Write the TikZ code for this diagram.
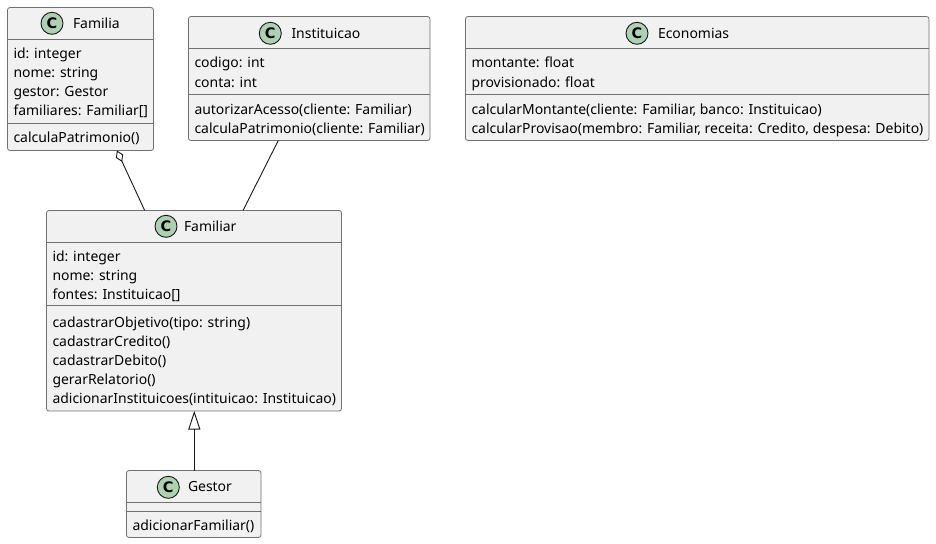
\documentclass[tikz,border=0pt]{standalone}
\usepackage{fontspec}
\setmainfont{Noto Sans}
\newfontfamily\spotfont{DejaVu Sans}
\usetikzlibrary{arrows.meta,calc}
\definecolor{boxfill}{HTML}{F1F1F1}
\definecolor{boxline}{HTML}{181818}
\definecolor{boxedge}{HTML}{707070}
\definecolor{spotfill}{HTML}{ADD1B2}
\tikzset{
  classbox/.style={draw=boxedge,fill=boxfill,line width=0.8pt,rounded corners=2.5pt,inner sep=0pt,outer sep=0pt,anchor=north west},
  spot/.style={circle,draw=boxline,fill=spotfill,line width=0.9pt,minimum size=22pt,inner sep=0pt,font=\spotfont\fontsize{14.5}{14.5}\selectfont\bfseries},
  txt/.style={anchor=base west,inner sep=0pt,outer sep=0pt,font=\fontsize{13.95}{14}\selectfont,text=black},
  sep/.style={draw=boxedge,line width=0.8pt},
  link/.style={draw=boxline,line width=0.9pt},
}
\begin{document}
\begin{tikzpicture}[x=1pt,y=-1pt]
\useasboundingbox (0,0) rectangle (936,543);
% boxes
\node[classbox,minimum width=146pt,minimum height=143pt] (familia) at (7.5,7.5) {};
\node[classbox,minimum width=241.5pt,minimum height=124pt] (inst) at (188.5,16.5) {};
\node[classbox,minimum width=463.5pt,minimum height=124pt] (econ) at (465.5,16.5) {};
\node[classbox,minimum width=295pt,minimum height=200.5pt] (familiar) at (46.5,210.5) {};
\node[classbox,minimum width=134.5pt,minimum height=67pt] (gestor) at (126.5,470.5) {};
% separators
\draw[sep] (7.5,39.5) -- (153.5,39.5) (7.5,123.5) -- (153.5,123.5);
\draw[sep] (188.5,48.5) -- (430,48.5) (188.5,94.5) -- (430,94.5);
\draw[sep] (465.5,48.5) -- (929,48.5) (465.5,94.5) -- (929,94.5);
\draw[sep] (46.5,242.5) -- (341.5,242.5) (46.5,305.5) -- (341.5,305.5);
\draw[sep] (126.5,502.5) -- (261,502.5) (126.5,511.5) -- (261,511.5);
% spots
\node[spot] (s1) at (52,23.3) {C};
\node[spot] (s2) at (270.3,33.3) {C};
\node[spot] (s3) at (637,33.3) {C};
\node[spot] (s4) at (166,226.3) {C};
\node[spot] (s5) at (168.3,487.3) {C};
% titles
\node[txt] (t1) at (73,28.5) {Familia};
\node[txt] (t2) at (291.5,38.5) {Instituicao};
\node[txt] (t3) at (658,38.5) {Economias};
\node[txt] (t4) at (184,231.5) {Familiar};
\node[txt] (t5) at (188,491.5) {Gestor};
% Familia
\node[txt] (a1) at (13.5,58.5) {id: integer};
\node[txt] (a2) at (13.5,77.5) {nome: string};
\node[txt] (a3) at (13.5,96.5) {gestor: Gestor};
\node[txt] (a4) at (13.5,115.5) {familiares: Familiar[]};
\node[txt] (a5) at (13.5,142.5) {calculaPatrimonio()};
% Instituicao
\node[txt] (b1) at (194.5,67.5) {codigo: int};
\node[txt] (b2) at (194.5,87) {conta: int};
\node[txt] (b3) at (194.5,114.5) {autorizarAcesso(cliente: Familiar)};
\node[txt] (b4) at (194.5,133.5) {calculaPatrimonio(cliente: Familiar)};
% Economias
\node[txt] (c1) at (471.5,67.5) {montante: float};
\node[txt] (c2) at (471.5,87) {provisionado: float};
\node[txt] (c3) at (471.5,114.5) {calcularMontante(cliente: Familiar, banco: Instituicao)};
\node[txt] (c4) at (471.5,133.5) {calcularProvisao(membro: Familiar, receita: Credito, despesa: Debito)};
% Familiar
\node[txt] (d1) at (52.5,261.5) {id: integer};
\node[txt] (d2) at (52.5,280.5) {nome: string};
\node[txt] (d3) at (52.5,299.5) {fontes: Instituicao[]};
\node[txt] (d4) at (52.5,327.5) {cadastrarObjetivo(tipo: string)};
\node[txt] (d5) at (52.5,346.5) {cadastrarCredito()};
\node[txt] (d6) at (52.5,365.5) {cadastrarDebito()};
\node[txt] (d7) at (52.5,384.5) {gerarRelatorio()};
\node[txt] (d8) at (52.5,403.5) {adicionarInstituicoes(intituicao: Instituicao)};
% Gestor
\node[txt] (e1) at (132.5,530) {adicionarFamiliar()};
% connectors
\draw[link,{Diamond[open,length=12.5pt,width=8pt,line width=0.9pt]}-] ($(familia.south west)+(109.4,0)$) -- ($(familiar.north west)+(98.2,0)$);
\draw[link] ($(inst.south west)+(89.8,0)$) -- ($(familiar.north west)+(196.5,0)$);
\draw[link,{Triangle[open,length=18.5pt,width=12pt,line width=0.9pt]}-] ($(familiar.south west)+(147.8,0)$) -- ($(gestor.north west)+(67.8,0)$);
\end{tikzpicture}
\end{document}
